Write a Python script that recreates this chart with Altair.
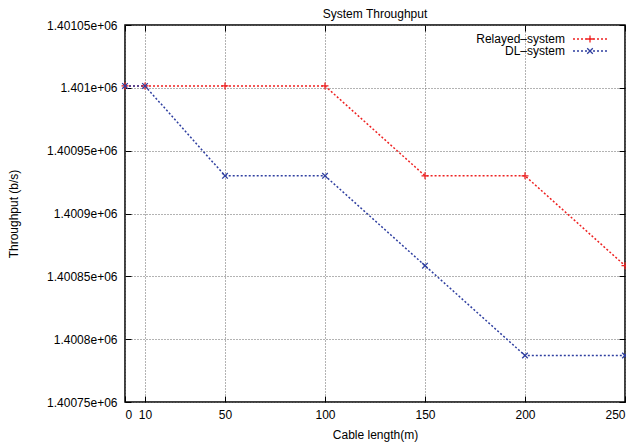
import altair as alt
import pandas as pd

# ---- data ----
cable_length = [0, 10, 50, 100, 150, 200, 250]
relayed_system = [1401001.5, 1401001.5, 1401001.5, 1401001.5, 1400930.0, 1400930.0, 1400858.5]
dl_system = [1401001.5, 1401001.5, 1400930.0, 1400930.0, 1400858.5, 1400787.0, 1400787.0]

series_names = ["Relayed–system", "DL–system"]
series_colors = ["#ee2222", "#2f3fa0"]
x_ticks = [0, 10, 50, 100, 150, 200, 250]
y_ticks = [1400750, 1400800, 1400850, 1400900, 1400950, 1401000, 1401050]

rows = []
for name, vals in zip(series_names, [relayed_system, dl_system]):
    for xv, yv in zip(cable_length, vals):
        rows.append({"series": name, "x": xv, "y": yv})
df = pd.DataFrame(rows)

FONT = "Liberation Sans"
plus_path = "M-1,0H1M0,-1V1"
cross_path = "M-0.8,-0.8L0.8,0.8M0.8,-0.8L-0.8,0.8"

xscale = alt.Scale(domain=[0, 250], nice=False, zero=False)
yscale = alt.Scale(domain=[1400750, 1401050], nice=False, zero=False)
cscale = alt.Scale(domain=series_names, range=series_colors)
sscale = alt.Scale(domain=series_names, range=[plus_path, cross_path])

label_expr = "replace(format(datum.value, '.6~e'), 'e+6', 'e+06')"

base = alt.Chart(df)

lines = base.mark_line(strokeDash=[2, 2], strokeWidth=1.5).encode(
    x=alt.X("x:Q", scale=xscale,
            axis=alt.Axis(values=x_ticks, title="Cable length(m)", grid=True, ticks=False,
                          domain=False, labelPadding=7, titlePadding=9, orient="bottom")),
    y=alt.Y("y:Q", scale=yscale,
            axis=alt.Axis(values=y_ticks, labelExpr=label_expr, title="Throughput (b/s)",
                          grid=True, ticks=False, domain=False, labelPadding=8,
                          titlePadding=26, orient="left")),
    color=alt.Color("series:N", scale=cscale, legend=None),
)

points = base.mark_point(filled=False, strokeWidth=1.3, size=49, opacity=1).encode(
    x=alt.X("x:Q", scale=xscale, axis=None),
    y=alt.Y("y:Q", scale=yscale, axis=None),
    color=alt.Color("series:N", scale=cscale, legend=None),
    shape=alt.Shape("series:N", scale=sscale, legend=None),
)


def tick_layer(channel, orient):
    ax = alt.Axis(orient=orient, offset=-6, tickSize=6, tickColor="black", tickWidth=1,
                  labels=False, domain=False, grid=False, title=None,
                  values=x_ticks if channel == "x" else y_ticks)
    if channel == "x":
        enc = dict(x=alt.X("x:Q", scale=xscale, axis=ax), y=alt.Y("y:Q", scale=yscale, axis=None))
    else:
        enc = dict(x=alt.X("x:Q", scale=xscale, axis=None), y=alt.Y("y:Q", scale=yscale, axis=ax))
    return base.mark_point(opacity=0).encode(**enc)


tick_layers = [tick_layer("x", "bottom"), tick_layer("x", "top"),
               tick_layer("y", "left"), tick_layer("y", "right")]

# ---- legend (top right, label left of sample, as in gnuplot) ----
legend_layers = []
for i, name in enumerate(series_names):
    ldf = pd.DataFrame({"series": [name]})
    ypos = 14 + 12 * i
    lb = alt.Chart(ldf)
    legend_layers.append(lb.mark_text(align="right", baseline="middle", font=FONT, fontSize=12,
                                      color="black").encode(
        x=alt.value(440), y=alt.value(ypos), text="series:N"))
    legend_layers.append(lb.mark_rule(strokeDash=[2, 2], strokeWidth=1.5).encode(
        x=alt.value(448), x2=alt.value(482), y=alt.value(ypos),
        color=alt.Color("series:N", scale=cscale, legend=None)))
    legend_layers.append(lb.mark_point(filled=False, strokeWidth=1.3, size=49, opacity=1).encode(
        x=alt.value(465), y=alt.value(ypos),
        color=alt.Color("series:N", scale=cscale, legend=None),
        shape=alt.Shape("series:N", scale=sscale, legend=None)))

chart = alt.layer(lines, points, *tick_layers, *legend_layers).resolve_axis(
    x="independent", y="independent"
).properties(
    width=500,
    height=377,
    autosize=alt.AutoSizeParams(type="none"),
    padding={"left": 117, "top": 17, "right": 1, "bottom": 40},
    title=alt.TitleParams("System Throughput", font=FONT, fontSize=12, fontWeight="normal",
                          anchor="middle", offset=-2, color="black"),
).configure_view(
    stroke="black", strokeWidth=1.5
).configure_axis(
    labelFont=FONT, labelFontSize=12, labelColor="black",
    titleFont=FONT, titleFontSize=12, titleFontWeight="normal", titleColor="black",
    gridColor="#666666", gridDash=[1, 2], gridWidth=1, gridOpacity=1,
)

chart.save("out.html", embed_options={"renderer": "svg", "actions": False})
